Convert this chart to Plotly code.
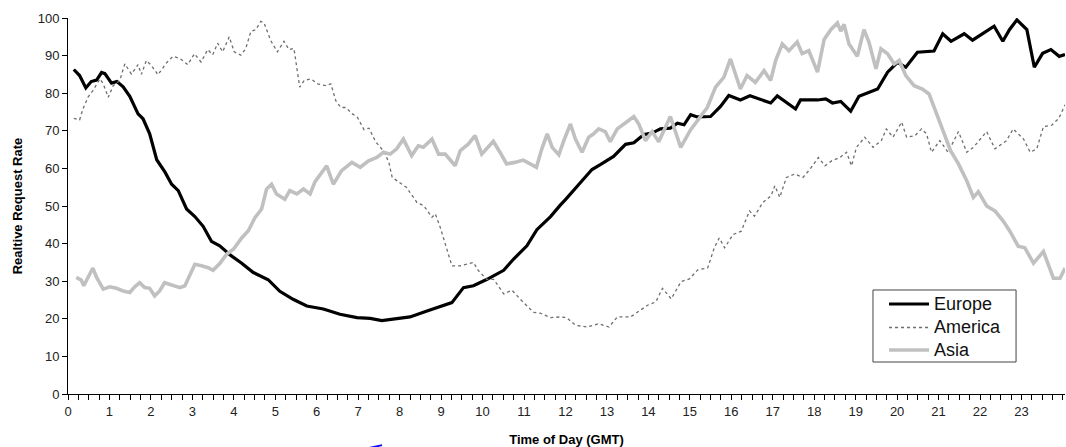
import plotly.graph_objects as go

# Relative request rate by time of day (GMT hours), one curve per region
europe_hours = [0.14, 0.28, 0.43, 0.56, 0.69, 0.81, 0.89, 1.05, 1.18, 1.33, 1.49, 1.69, 1.81, 1.97,
                2.14, 2.34, 2.50, 2.66, 2.86, 3.06, 3.26, 3.46, 3.66, 3.91, 4.19, 4.47, 4.83, 5.11,
                5.43, 5.76, 6.16, 6.56, 6.97, 7.29, 7.57, 7.85, 8.25, 8.66, 9.06, 9.26, 9.54, 9.78,
                10.11, 10.51, 10.75, 11.07, 11.31, 11.64, 11.88, 12.0, 12.4, 12.64, 12.84, 13.16,
                13.45, 13.65, 13.89, 14.09, 14.29, 14.53, 14.70, 14.86, 15.02, 15.18, 15.50, 15.74,
                15.94, 16.22, 16.45, 16.95, 17.11, 17.55, 17.67, 18.08, 18.28, 18.44, 18.64, 18.88,
                19.08, 19.36, 19.53, 19.77, 20.01, 20.21, 20.49, 20.89, 21.10, 21.30, 21.62, 21.82,
                22.18, 22.34, 22.55, 22.71, 22.89, 23.13, 23.31, 23.51, 23.71, 23.91, 24.05]
europe_rate = [86.3, 84.7, 81.4, 83.1, 83.5, 85.5, 85.2, 82.7, 83.1, 81.7, 79.2, 74.5, 73.2, 69.2,
               62.3, 59.0, 55.8, 54.1, 49.2, 47.2, 44.6, 40.6, 39.4, 37.0, 34.8, 32.3, 30.4, 27.3,
               25.2, 23.4, 22.6, 21.2, 20.3, 20.1, 19.5, 19.9, 20.5, 22.1, 23.7, 24.3, 28.3, 28.8,
               30.5, 32.9, 35.9, 39.4, 43.7, 47.2, 50.3, 51.7, 56.7, 59.7, 61.0, 63.2,
               66.4, 66.8, 69.0, 69.4, 70.5, 70.7, 72.0, 71.6, 74.3, 73.7, 73.8, 76.5,
               79.4, 78.2, 79.3, 77.4, 79.3, 75.8, 78.2, 78.2, 78.5, 77.4, 77.8, 75.2,
               79.2, 80.3, 81.1, 85.6, 88.2, 86.9, 90.9, 91.2, 95.8, 93.8, 95.8, 94.1,
               96.5, 97.8, 93.8, 96.9, 99.5, 96.9, 86.9, 90.6, 91.6, 89.8, 90.3]

america_hours = [0.14, 0.28, 0.36, 0.48, 0.60, 0.77, 0.85, 0.97, 1.09, 1.25, 1.37, 1.53, 1.69, 1.77,
                 1.89, 2.01, 2.17, 2.37, 2.53, 2.69, 2.89, 3.05, 3.21, 3.37, 3.49, 3.61, 3.73, 3.89,
                 4.01, 4.17, 4.29, 4.41, 4.53, 4.65, 4.73, 4.89, 5.05, 5.21, 5.33, 5.45, 5.59, 5.70,
                 5.86, 6.02, 6.22, 6.34, 6.46, 6.58, 6.70, 6.86, 6.98, 7.14, 7.26, 7.42, 7.62, 7.74,
                 7.82, 7.98, 8.17, 8.42, 8.58, 8.78, 8.86, 8.98, 9.14, 9.26, 9.46, 9.78, 9.90, 10.10,
                 10.27, 10.51, 10.71, 10.91, 11.23, 11.39, 11.64, 11.88, 12.03, 12.24, 12.52, 12.80,
                 13.05, 13.25, 13.57, 13.77, 13.98, 14.18, 14.34, 14.55, 14.79, 14.99, 15.19, 15.43,
                 15.59, 15.71, 15.84, 16.04, 16.24, 16.44, 16.56, 16.76, 16.96, 17.05, 17.17, 17.33,
                 17.53, 17.73, 17.90, 18.10, 18.26, 18.42, 18.62, 18.78, 18.90, 19.02, 19.22, 19.42,
                 19.62, 19.74, 19.90, 20.11, 20.23, 20.43, 20.59, 20.71, 20.83, 21.03, 21.23, 21.48,
                 21.68, 21.84, 22.16, 22.36, 22.64, 22.80, 23.05, 23.21, 23.37, 23.53, 23.73, 23.90,
                 24.05]
america_rate = [73.3, 72.9, 75.8, 78.9, 80.7, 83.8, 82.5, 78.9, 82.0, 83.4, 87.8, 85.1, 87.6, 85.0,
                88.7, 87.4, 84.9, 88.0, 89.8, 89.3, 87.6, 90.5, 88.3, 91.6, 90.2, 93.3, 91.0, 95.0,
                91.0, 90.1, 91.9, 96.4, 96.9, 99.1, 98.7, 94.0, 91.0, 93.8, 91.6, 91.9, 81.6, 83.4,
                83.8, 82.5, 82.0, 82.5, 78.0, 76.2, 76.2, 74.5, 73.6, 70.3, 70.7, 67.1, 64.5, 61.6,
                57.6, 56.3, 54.9, 50.9, 50.1, 47.0, 47.9, 44.3, 38.1, 34.1, 34.1, 35.0, 32.8, 30.5,
                30.5, 26.6, 27.6, 25.2, 21.7, 21.5, 20.3, 20.5, 20.3, 18.3, 17.8, 18.7,
                17.8, 20.5, 20.5, 22.0, 23.6, 24.5, 28.1, 25.3, 29.9, 30.6, 33.0, 33.5,
                38.9, 41.5, 38.9, 42.4, 43.3, 48.7, 47.3, 50.9, 52.7, 55.4, 52.3, 57.6,
                58.5, 57.6, 59.8, 62.9, 60.7, 62.0, 62.9, 64.3, 60.7, 65.6, 68.3, 65.6,
                67.4, 70.5, 68.3, 72.3, 68.3, 68.7, 70.5, 69.2, 64.3, 67.4, 64.3, 69.8,
                64.3, 65.6, 69.8, 65.2, 67.4, 70.5, 67.8, 64.3, 65.2, 71.1, 71.5, 73.3,
                76.9]

asia_hours = [0.20, 0.32, 0.38, 0.48, 0.60, 0.69, 0.85, 1.01, 1.17, 1.33, 1.49, 1.61, 1.73, 1.85,
              1.97, 2.09, 2.21, 2.33, 2.53, 2.70, 2.82, 2.94, 3.06, 3.22, 3.38, 3.50, 3.66, 3.83,
              3.99, 4.19, 4.35, 4.51, 4.67, 4.79, 4.91, 5.03, 5.15, 5.23, 5.35, 5.52, 5.68, 5.84,
              5.96, 6.16, 6.24, 6.40, 6.60, 6.85, 7.05, 7.25, 7.45, 7.61, 7.77, 7.93, 8.09, 8.29,
              8.45, 8.57, 8.78, 8.94, 9.10, 9.34, 9.46, 9.66, 9.82, 9.98, 10.26, 10.42, 10.58,
              10.78, 10.98, 11.15, 11.30, 11.43, 11.56, 11.68, 11.84, 11.96, 12.12, 12.24, 12.40,
              12.56, 12.68, 12.80, 12.96, 13.08, 13.25, 13.41, 13.65, 13.77, 13.93, 14.09, 14.25,
              14.53, 14.78, 15.02, 15.26, 15.42, 15.62, 15.82, 15.98, 16.22, 16.38, 16.58, 16.79,
              16.95, 17.07, 17.23, 17.39, 17.59, 17.71, 17.87, 18.08, 18.24, 18.40, 18.56, 18.64,
              18.72, 18.84, 19.04, 19.20, 19.32, 19.49, 19.61, 19.77, 19.93, 20.05, 20.21, 20.41,
              20.61, 20.77, 20.97, 21.13, 21.29, 21.48, 21.68, 21.84, 21.96, 22.16, 22.36, 22.56,
              22.72, 22.92, 23.08, 23.29, 23.53, 23.77, 23.93, 24.05]
asia_rate = [31.0, 30.3, 28.8, 31.0, 33.5, 31.0, 27.9, 28.5, 28.1, 27.4, 27.0, 28.5, 29.6, 28.3,
             28.1, 26.1, 27.4, 29.6, 29.0, 28.3, 28.8, 31.9, 34.5, 34.1, 33.6, 32.9, 34.7, 37.2,
             38.5, 41.5, 43.4, 46.9, 49.2, 54.5, 55.8, 53.2, 52.3, 51.8, 54.1, 53.2, 54.5, 53.2,
             56.5, 59.4, 60.7, 55.8, 59.4, 61.6, 60.3, 62.0, 62.9, 64.3, 63.8, 65.2, 67.8, 63.4,
             66.0, 65.6, 67.8, 63.8, 63.8, 60.7, 64.7, 66.5, 68.7, 63.8, 67.2, 64.3, 61.2,
             61.6, 62.2, 61.2, 60.3, 65.2, 69.2, 65.6, 63.6, 67.4, 71.8, 67.8, 64.3,
             68.3, 69.2, 70.5, 69.8, 67.1, 70.5, 71.8, 73.8, 71.8, 67.4, 69.8, 67.1,
             73.8, 65.6, 70.3, 74.0, 76.2, 81.6, 84.2, 89.1, 81.1, 84.7, 82.9, 86.0,
             83.4, 88.7, 93.1, 91.3, 93.6, 90.5, 91.3, 85.6, 94.3, 96.9, 98.7, 96.5,
             98.3, 93.1, 89.8, 96.9, 93.6, 86.5, 91.8, 90.5, 87.8, 88.7, 84.7, 82.0,
             81.1, 79.8, 74.0, 69.2, 64.7, 61.2, 56.7, 52.3, 53.8, 50.0, 48.7, 46.0,
             43.3, 39.3, 38.9, 34.8, 37.9, 30.8, 30.8, 33.5]

hour_ticks = list(range(0, 24))
rate_ticks = list(range(0, 101, 10))

FONT = "Liberation Sans, Arial, sans-serif"

series = [
    ("Europe", europe_hours, europe_rate, dict(color="#000000", width=3.2)),
    ("America", america_hours, america_rate, dict(color="#6e6e6e", width=1.3, dash="3px,3px")),
    ("Asia", asia_hours, asia_rate, dict(color="#c0c0c0", width=3.6)),
]

fig = go.Figure()
for name, hrs, rate, style in series:
    fig.add_trace(go.Scatter(x=hrs, y=rate, mode="lines", name=name, line=style))

fig.update_layout(
    width=1066, height=447,
    margin=dict(l=68, r=1, t=18, b=53),
    paper_bgcolor="white", plot_bgcolor="white",
    font=dict(family=FONT, size=13, color="#222222"),
    showlegend=False,
)

fig.update_xaxes(
    range=[0, 24.05], tickmode="array", tickvals=hour_ticks,
    ticktext=[str(h) for h in hour_ticks],
    ticks="outside", ticklen=5, tickcolor="#000000", tickwidth=1,
    minor=dict(dtick=0.25, tick0=0, ticks="outside", ticklen=5, tickcolor="#000000", tickwidth=1),
    showline=True, linecolor="#000000", linewidth=1,
    showgrid=False, zeroline=False,
    tickfont=dict(family=FONT, size=13, color="#222222"),
    title=dict(text="<b>Time of Day (GMT)</b>", standoff=17,
               font=dict(family=FONT, size=13, color="#000000")),
)
fig.update_yaxes(
    range=[0, 100], tickmode="array", tickvals=rate_ticks,
    ticks="outside", ticklen=5, tickcolor="#000000", tickwidth=1,
    showline=True, linecolor="#000000", linewidth=1,
    showgrid=False, zeroline=False,
    tickfont=dict(family=FONT, size=13, color="#222222"),
    title=dict(text="<b>Realtive Request Rate</b>", standoff=12,
               font=dict(family=FONT, size=13, color="#000000")),
)

# Boxed key in the lower right of the plot area
box_x0, box_x1, box_y0, box_y1 = 0.8074, 0.9509, 0.0851, 0.2766
fig.add_shape(type="rect", xref="paper", yref="paper",
              x0=box_x0, x1=box_x1, y0=box_y0, y1=box_y1,
              line=dict(color="#444444", width=1), fillcolor="white", layer="above")
key_rows = [0.2394, 0.1769, 0.1170]
for (name, _, _, style), ky in zip(series, key_rows):
    fig.add_shape(type="line", xref="paper", yref="paper",
                  x0=0.8235, x1=0.8636, y0=ky, y1=ky, line=style, layer="above")
    fig.add_annotation(xref="paper", yref="paper", x=0.8666, y=ky, text=name,
                       showarrow=False, xanchor="left", yanchor="middle",
                       font=dict(family=FONT, size=18, color="#111111"))

# small blue pen stroke below the axis labels
fig.add_shape(type="line", xref="paper", yref="paper",
              x0=0.298, y0=-0.146, x1=0.315, y1=-0.136,
              line=dict(color="#1010ff", width=2))

fig.write_html("out.html")
